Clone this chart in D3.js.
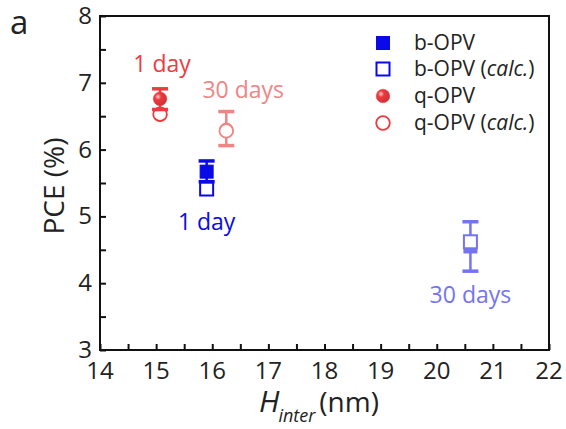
<!DOCTYPE html>
<html><head><meta charset="utf-8">
<script src="https://cdn.jsdelivr.net/npm/d3@7"></script>
<style>body{margin:0;background:#fff}svg{display:block}text{font-family:"Open Sans","Noto Sans",sans-serif}</style>
</head><body><svg id="c" width="566" height="429"></svg>
<script>
const groups = ["b-OPV 1 day", "b-OPV 30 days", "q-OPV 1 day", "q-OPV 30 days"];
const device = ["b", "b", "q", "q"];
const hInter = [15.9, 20.6, 15.07, 16.25];
const pce = [5.67, 4.55, 6.76, 6.30];
const errHi = [5.83, 4.92, 6.91, 6.57];
const errLo = [5.52, 4.18, 6.60, 6.06];
const pceCalc = [5.41, 4.62, 6.53, 6.28];
const labels = ["1 day", "30 days", "1 day", "30 days"];
const colors = ["#0a0ae8", "#7474f2", "#ee3a3f", "#f08585"];
const xTicks = [14, 15, 16, 17, 18, 19, 20, 21, 22];
const yTicks = [3, 4, 5, 6, 7, 8];
const legendNames = ["b-OPV", "b-OPV (calc.)", "q-OPV", "q-OPV (calc.)"];

const svg = d3.select("#c");
const L = 100, R = 549, T = 16, B = 350;
const x = d3.scaleLinear().domain([14, 22]).range([L, R]);
const y = d3.scaleLinear().domain([3, 8]).range([B, T]);

const defs = svg.append("defs");
colors.forEach((c, i) => {
  const g = defs.append("radialGradient").attr("id", "g" + i).attr("cx", "35%").attr("cy", "35%").attr("r", "65%");
  g.append("stop").attr("offset", "0%").attr("stop-color", "#ffd0d0");
  g.append("stop").attr("offset", "35%").attr("stop-color", c);
  g.append("stop").attr("offset", "100%").attr("stop-color", d3.color(c).darker(0.4));
});

// axes
const xAxis = d3.axisBottom(x).tickValues(d3.range(14, 22.01, 0.5)).tickSize(-6).tickFormat("");
const yAxis = d3.axisLeft(y).tickValues(d3.range(3, 8.01, 0.5)).tickSize(-6).tickFormat("");
const gx = svg.append("g").attr("transform", `translate(0,${B})`).call(xAxis);
const gy = svg.append("g").attr("transform", `translate(${L},0)`).call(yAxis);
[gx, gy].forEach(g => { g.select(".domain").remove(); g.selectAll("line").attr("stroke", "#111").attr("stroke-width", 2); });
svg.append("rect").attr("x", L).attr("y", T).attr("width", R - L).attr("height", B - T)
  .attr("fill", "none").attr("stroke", "#111").attr("stroke-width", 2);

svg.selectAll(".xt").data(xTicks).enter().append("text")
  .attr("x", d => x(d)).attr("y", 379).attr("text-anchor", "middle")
  .attr("font-size", 24).attr("fill", "#222").text(d => d);
svg.selectAll(".yt").data(yTicks).enter().append("text")
  .attr("x", 92).attr("y", d => y(d) + 8).attr("text-anchor", "end")
  .attr("font-size", 24).attr("fill", "#222").text(d => d);

svg.append("text").attr("transform", `translate(64,186) rotate(-90)`).attr("text-anchor", "middle")
  .attr("font-size", 28).attr("fill", "#222").text("PCE (%)");
const xl = svg.append("text").attr("x", 259).attr("y", 412).attr("fill", "#222");
xl.append("tspan").attr("font-size", 30).attr("font-style", "italic").text("H");
xl.append("tspan").attr("font-size", 18).attr("font-style", "italic").attr("dy", 10).attr("dx", -1).text("inter");
xl.append("tspan").attr("font-size", 28).attr("dy", -10).attr("dx", 4).text("(nm)");
svg.append("text").attr("x", 10).attr("y", 34).attr("font-size", 33).attr("fill", "#222").text("a");

// data
const idx = d3.range(groups.length);
const cw = 8;
const eb = svg.append("g");
idx.forEach(i => {
  eb.append("line").attr("x1", x(hInter[i])).attr("x2", x(hInter[i]))
    .attr("y1", y(errHi[i])).attr("y2", y(errLo[i])).attr("stroke", colors[i]).attr("stroke-width", 2.5);
});
function marker(g, kind, cx, cy, c, filled, i) {
  if (kind === "b") {
    g.append("rect").attr("x", cx - 6.5).attr("y", cy - 6.5).attr("width", 13).attr("height", 13)
      .attr("fill", filled ? c : "#fff").attr("stroke", c).attr("stroke-width", filled ? 1 : 2);
  } else {
    g.append("circle").attr("cx", cx).attr("cy", cy).attr("r", 6.8)
      .attr("fill", filled ? `url(#g${i})` : "#fff").attr("stroke", c).attr("stroke-width", filled ? 0.5 : 1.8);
  }
}
const mk = svg.append("g");
idx.forEach(i => marker(mk, device[i], x(hInter[i]), y(pce[i]), colors[i], true, i));
idx.forEach(i => marker(mk, device[i], x(hInter[i]), y(pceCalc[i]), colors[i], false, i));
idx.forEach(i => {
  [errHi[i], errLo[i]].forEach(v => {
    mk.append("line").attr("x1", x(hInter[i]) - cw).attr("x2", x(hInter[i]) + cw)
      .attr("y1", y(v)).attr("y2", y(v)).attr("stroke", colors[i]).attr("stroke-width", 3.5);
  });
});

// annotations: pixel offsets from the error bar end
const offs = [[0, 48, "lo"], [0, 32, "lo"], [2, -17, "hi"], [17, -14, "hi"]];
idx.forEach(i => {
  const base = offs[i][2] === "lo" ? y(errLo[i]) : y(errHi[i]);
  svg.append("text").attr("x", x(hInter[i]) + offs[i][0]).attr("y", base + offs[i][1])
    .attr("text-anchor", "middle").attr("font-size", 23).attr("fill", colors[i]).text(labels[i]);
});

// legend
const lg = svg.append("g");
const ly = [43, 69, 96, 123];
legendNames.forEach((n, k) => {
  const i = k < 2 ? 0 : 2;
  marker(lg, k < 2 ? "b" : "q", 383, ly[k], colors[i], k % 2 === 0, i);
  const t = lg.append("text").attr("x", 414).attr("y", ly[k] + 7).attr("font-size", 21).attr("fill", "#222");
  if (n.includes("(")) {
    t.append("tspan").text(n.split("(")[0] + "(");
    t.append("tspan").attr("font-style", "italic").text("calc.");
    t.append("tspan").text(")");
  } else t.text(n);
});
</script></body></html>
